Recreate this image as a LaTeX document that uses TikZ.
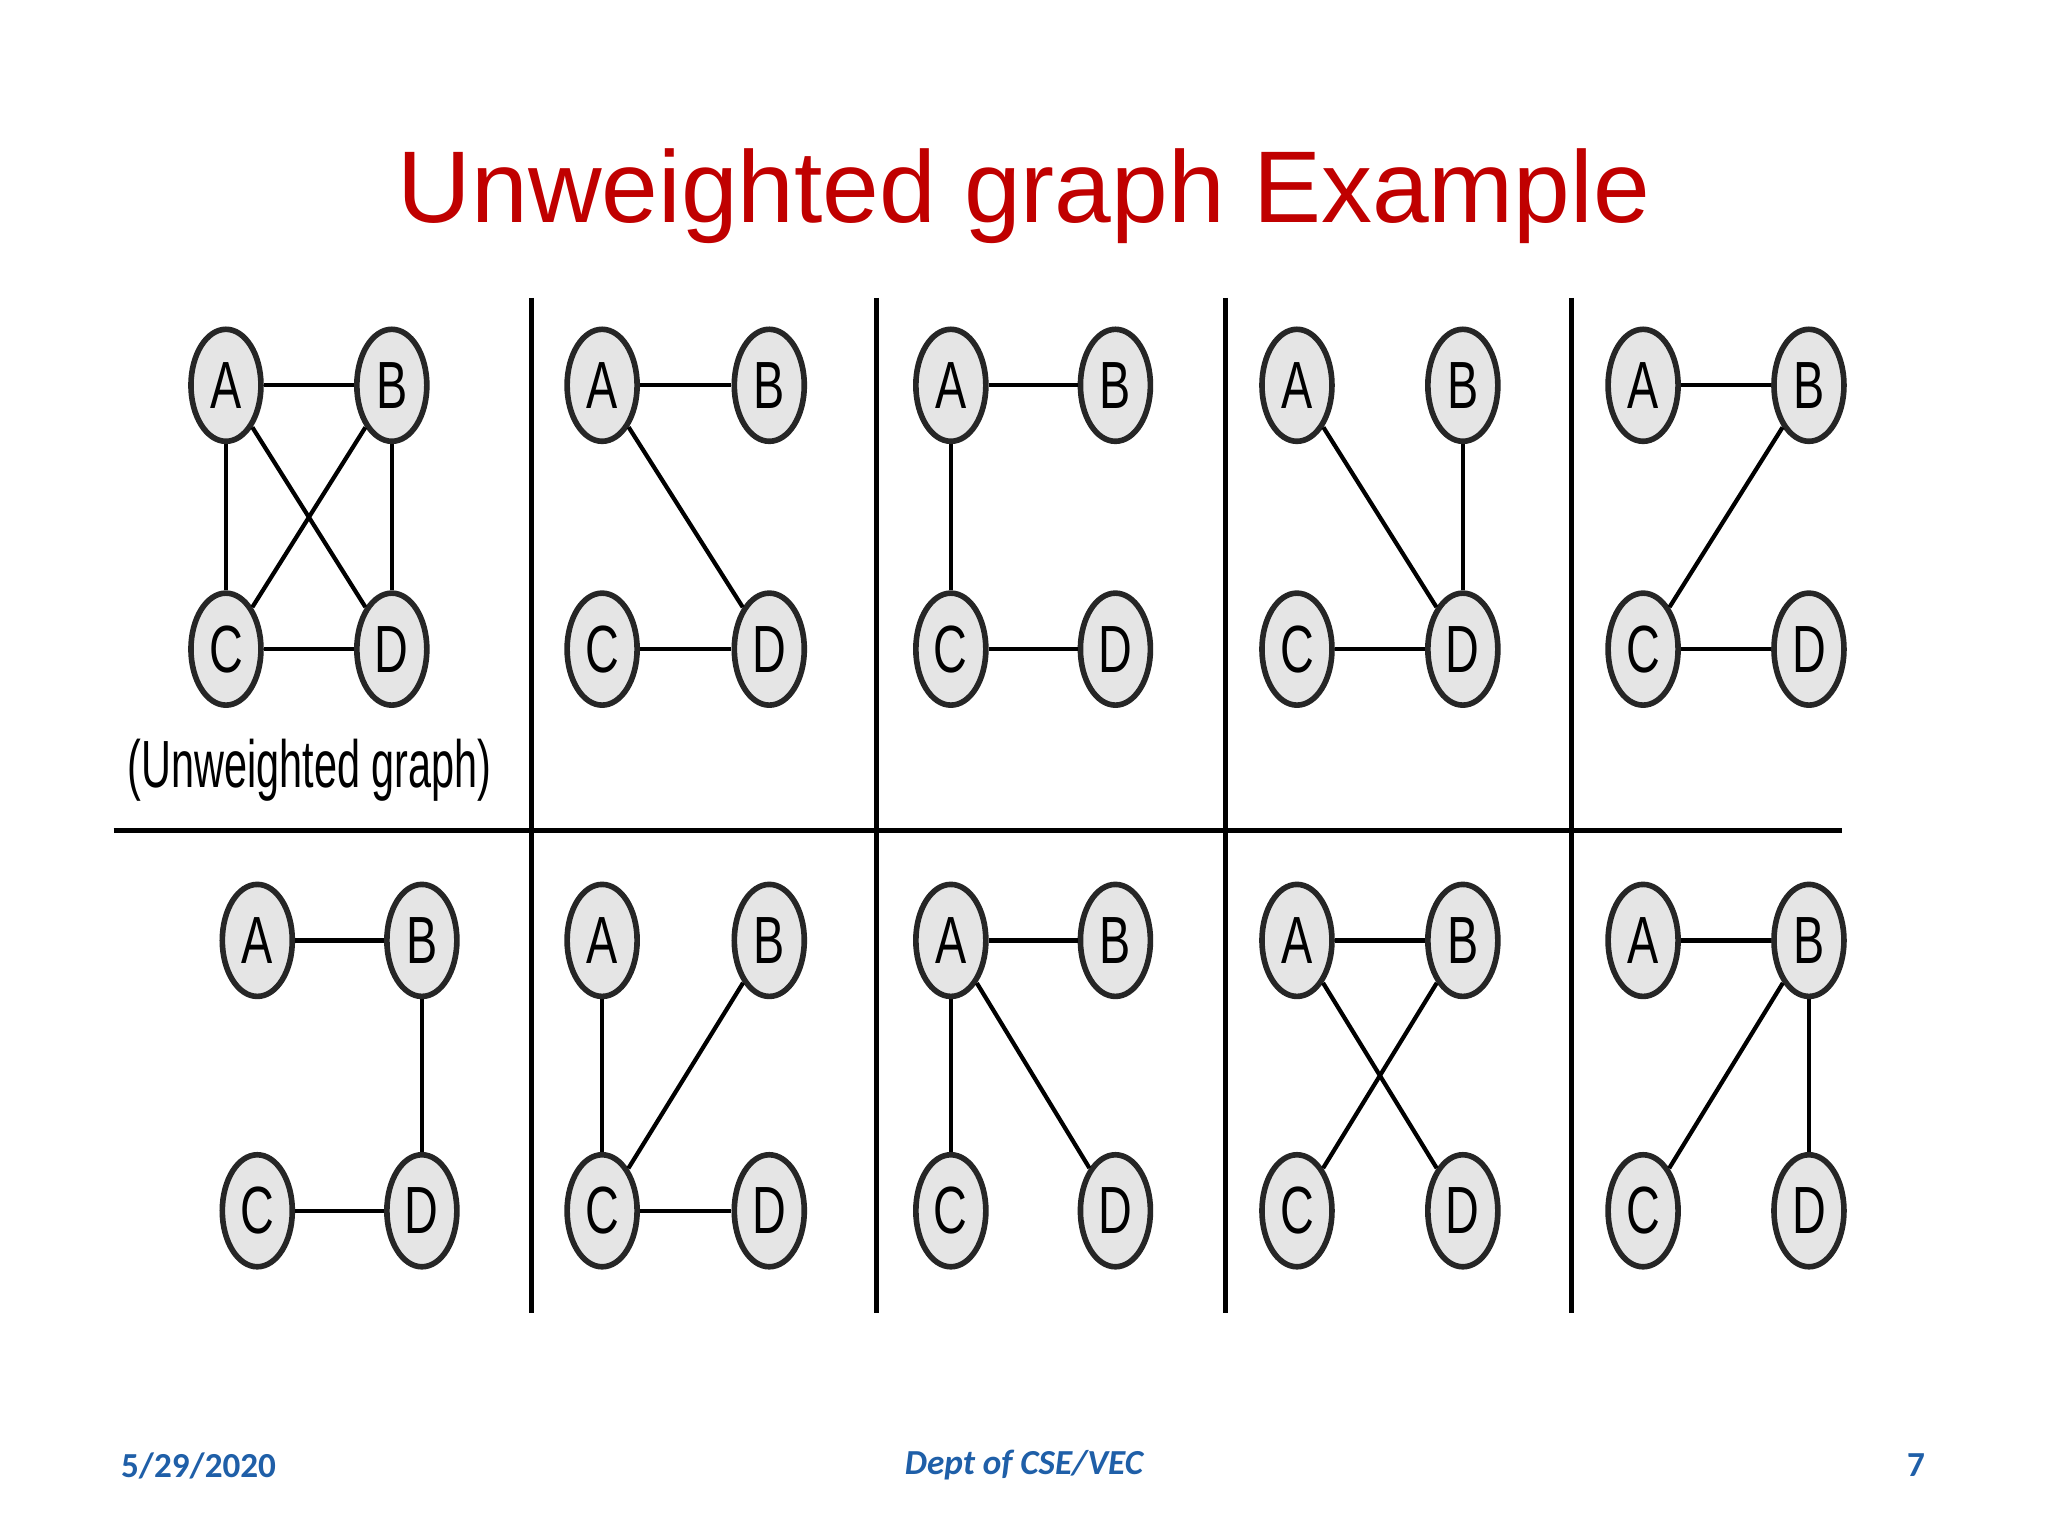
\documentclass[tikz,border=0pt]{standalone}
\usepackage{fontspec}
\setmainfont{Liberation Sans}
\newfontfamily\carl{Carlito}
\definecolor{ttl}{RGB}{192,0,0}
\definecolor{ftr}{RGB}{31,95,168}
\tikzset{vtx/.style={ellipse,draw=black!85,line width=1.6pt,fill=black!10,minimum width=0.70cm,minimum height=1.12cm,inner sep=0pt,font=\fontsize{19}{19}\selectfont},
edge/.style={line width=1.2pt},
grid/.style={line width=1.5pt}}
\usetikzlibrary{shapes.geometric}
\newcommand\grpanel[6]{%
 \node[vtx] (#1A) at (#2,#4) {\scalebox{0.7}[1]{A}};
 \node[vtx] (#1B) at (#3,#4) {\scalebox{0.7}[1]{B}};
 \node[vtx] (#1C) at (#2,#5) {\scalebox{0.7}[1]{C}};
 \node[vtx] (#1D) at (#3,#5) {\scalebox{0.7}[1]{D}};
 \foreach \u/\v in {#6} \draw[edge] (#1\u) -- (#1\v);}
\begin{document}
\begin{tikzpicture}[x=0.013061cm,y=-0.013061cm]
\useasboundingbox (0,0) rectangle (1568,1176);
\fill[white] (0,0) rectangle (1568,1176);
\node (title) at (784,150) {\color{ttl}\fontsize{29}{29}\selectfont Unweighted graph Example};
\foreach \x [count=\i] in {407,671,938,1203} \draw[grid] (\x,228) coordinate (vt\i) -- (\x,1005) coordinate (vb\i);
\draw[grid] (87,636) coordinate (hl) -- (1410,636) coordinate (hr);
\grpanel{p}{173}{300}{295}{497}{A/B,A/C,B/D,C/D,A/D,B/C}
\grpanel{q}{461}{589}{295}{497}{A/B,A/D,C/D}
\grpanel{r}{728}{854}{295}{497}{A/B,A/C,C/D}
\grpanel{s}{993}{1120}{295}{497}{A/D,B/D,C/D}
\grpanel{t}{1258}{1385}{295}{497}{A/B,B/C,C/D}
\grpanel{u}{197}{323}{720}{927}{A/B,B/D,C/D}
\grpanel{v}{461}{589}{720}{927}{A/C,B/C,C/D}
\grpanel{w}{728}{854}{720}{927}{A/B,A/C,A/D}
\grpanel{y}{993}{1120}{720}{927}{A/B,A/D,B/C}
\grpanel{z}{1258}{1385}{720}{927}{A/B,B/C,B/D}
\node (cap) at (237,590) {\fontsize{19}{19}\selectfont\scalebox{0.62}[1]{(Unweighted graph)}};
\node (date) at (152,1122) {\carl\bfseries\color{ftr}\fontsize{10}{10}\selectfont 5/29/2020};
\node (dept) at (784,1122) {\carl\bfseries\itshape\color{ftr}\fontsize{10}{10}\selectfont Dept of CSE/VEC};
\node (pg) at (1467,1122) {\carl\bfseries\color{ftr}\fontsize{10}{10}\selectfont 7};
\end{tikzpicture}
\end{document}
